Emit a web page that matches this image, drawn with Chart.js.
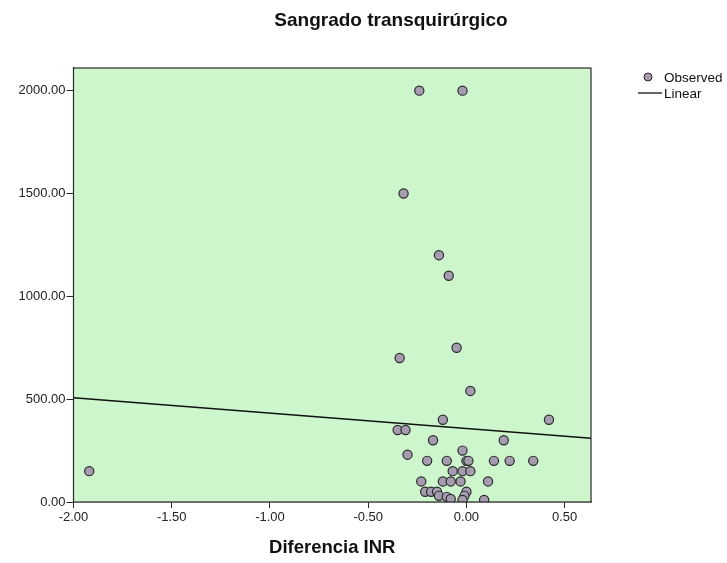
<!DOCTYPE html>
<html>
<head>
<meta charset="utf-8">
<script src="https://cdn.jsdelivr.net/npm/chart.js@4.4.1/dist/chart.umd.min.js"></script>
<style>
  html, body { margin: 0; padding: 0; background: #fff; }
  #wrap { width: 727px; height: 563px; position: relative; }
</style>
</head>
<body>
<div id="wrap"><canvas id="chart"></canvas></div>
<script>
// Datos
const diferenciaINR = [
  -1.92, -0.24, -0.02, -0.32, -0.14, -0.09, -0.05, -0.34, 0.02,
  -0.12, 0.42, -0.35, -0.31, -0.17, 0.19, -0.30, -0.02,
  -0.20, -0.10, 0.00, 0.01, 0.14, 0.22, 0.34,
  -0.07, -0.02, 0.02,
  -0.23, -0.12, -0.08, -0.03, 0.11,
  -0.21, -0.18, -0.15, 0.00,
  -0.14, -0.10, -0.08, -0.01, -0.02, 0.09
];
const sangrado = [
  150, 2000, 2000, 1500, 1200, 1100, 750, 700, 540,
  400, 400, 350, 350, 300, 300, 230, 250,
  200, 200, 200, 200, 200, 200, 200,
  150, 150, 150,
  100, 100, 100, 100, 100,
  50, 50, 50, 50,
  30, 25, 15, 30, 10, 10
];
// Recta de ajuste lineal (extremos leídos)
const linearX = [-2.0, 0.634];
const linearY = [507, 310];

const xTicks = [-2.0, -1.5, -1.0, -0.5, 0.0, 0.5];
const yTicks = [0, 500, 1000, 1500, 2000];

const seriesLabels = ['Observed', 'Linear'];
const chartTitle = 'Sangrado transquirúrgico';
const xTitle = 'Diferencia INR';

const pointFill = 'rgb(165,156,176)';
const edge = '#2a2a2a';
const FONT = '"Liberation Sans", Arial, sans-serif';

// fondo verde y borde del area
const plotFrame = {
  id: 'plotFrame',
  beforeDatasetsDraw(chart) {
    const { ctx, chartArea: a } = chart;
    ctx.save();
    ctx.fillStyle = 'rgb(205,246,204)';
    ctx.fillRect(a.left, a.top, a.right - a.left, a.bottom - a.top);
    ctx.restore();
  },
  afterDraw(chart) {
    const { ctx, chartArea: a } = chart;
    ctx.save();
    ctx.strokeStyle = edge;
    ctx.lineWidth = 1.2;
    ctx.strokeRect(a.left, a.top, a.right - a.left, a.bottom - a.top);

    // titulo
    ctx.fillStyle = '#111';
    ctx.font = 'bold 19px ' + FONT;
    ctx.textAlign = 'center';
    ctx.textBaseline = 'middle';
    ctx.fillText(chartTitle, 391, 21);

    // leyenda
    ctx.font = '13.5px ' + FONT;
    ctx.textAlign = 'left';
    ctx.beginPath();
    ctx.arc(648, 77, 4, 0, Math.PI * 2);
    ctx.fillStyle = pointFill;
    ctx.fill();
    ctx.lineWidth = 1;
    ctx.strokeStyle = edge;
    ctx.stroke();
    ctx.fillStyle = '#111';
    ctx.fillText(seriesLabels[0], 664, 78);
    ctx.beginPath();
    ctx.moveTo(638, 93);
    ctx.lineTo(662, 93);
    ctx.lineWidth = 1.3;
    ctx.strokeStyle = '#111';
    ctx.stroke();
    ctx.fillText(seriesLabels[1], 664, 94);
    ctx.restore();
  }
};

new Chart(document.getElementById('chart'), {
  type: 'scatter',
  data: {
    datasets: [
      {
        label: seriesLabels[0],
        data: diferenciaINR.map((x, i) => ({ x: x, y: sangrado[i] })),
        backgroundColor: pointFill,
        borderColor: edge,
        borderWidth: 1.2,
        pointRadius: 4.6,
        pointHoverRadius: 4.6
      },
      {
        label: seriesLabels[1],
        data: linearX.map((x, i) => ({ x: x, y: linearY[i] })),
        showLine: true,
        borderColor: '#111',
        borderWidth: 1.4,
        pointRadius: 0,
        fill: false
      }
    ]
  },
  options: {
    responsive: true,
    maintainAspectRatio: false,
    animation: false,
    layout: { padding: { top: 68, right: 136, bottom: 0, left: 0 } },
    plugins: {
      legend: { display: false },
      title: { display: false },
      tooltip: { enabled: false }
    },
    scales: {
      x: {
        type: 'linear',
        min: -2.0,
        max: 0.634,
        afterFit: s => { s.height = 61; },
        afterBuildTicks: s => { s.ticks = xTicks.map(v => ({ value: v })); },
        ticks: {
          font: { family: FONT, size: 13 },
          color: '#222',
          padding: 2,
          maxRotation: 0,
          callback: v => v.toFixed(2)
        },
        grid: { drawOnChartArea: false, drawTicks: true, tickLength: 6, color: edge },
        border: { display: true, color: edge, width: 1.2 },
        title: {
          display: true,
          text: xTitle,
          color: '#111',
          font: { family: FONT, size: 18.5, weight: 'bold' },
          padding: { top: 0, bottom: 4 }
        }
      },
      y: {
        type: 'linear',
        min: 0,
        max: 2110,
        afterFit: s => { s.width = 73.5; },
        afterBuildTicks: s => { s.ticks = yTicks.map(v => ({ value: v })); },
        ticks: {
          font: { family: FONT, size: 13 },
          color: '#222',
          padding: 1,
          callback: v => v.toFixed(2)
        },
        grid: { drawOnChartArea: false, drawTicks: true, tickLength: 7, color: edge },
        border: { display: true, color: edge, width: 1.2 }
      }
    }
  },
  plugins: [plotFrame]
});
</script>
</body>
</html>
